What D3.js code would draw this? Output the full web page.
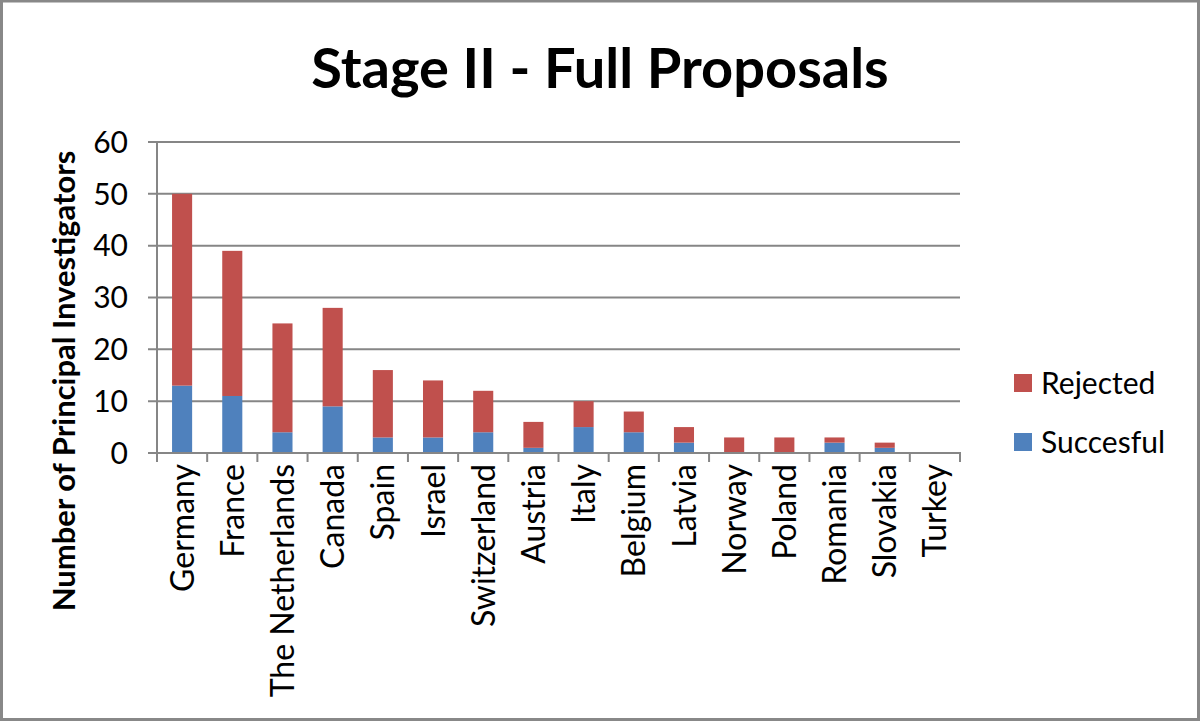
<!DOCTYPE html>
<html><head><meta charset="utf-8">
<script src="https://cdn.jsdelivr.net/npm/d3@7"></script>
<style>body{margin:0;background:#fff;} svg{display:block;}</style>
</head><body>
<svg id="c" width="1200" height="721"></svg>
<script>
const categories = ["Germany","France","The Netherlands","Canada","Spain","Israel","Switzerland","Austria","Italy","Belgium","Latvia","Norway","Poland","Romania","Slovakia","Turkey"];
const successful = [13,11,4,9,3,3,4,1,5,4,2,0,0,2,1,0];
const rejected   = [37,28,21,19,13,11,8,5,5,4,3,3,3,1,1,0];
const yTicks = [0,10,20,30,40,50,60];
const seriesNames = ["Succesful","Rejected"];
const colors = {"Succesful":"#4F81BD","Rejected":"#C0504D"};

(function(){
const svg = d3.select("#c");
const font = "Lato, 'Open Sans', sans-serif";
const W=1200,H=721;
svg.append("rect").attr("x",1.5).attr("y",1).attr("width",W-3).attr("height",H-2.5)
  .attr("fill","#fff").attr("stroke","#888").attr("stroke-width",3);

const pL=157,pR=960,pT=142,pB=453;
const x = d3.scaleBand().domain(categories).range([pL,pR]).paddingInner(0.6).paddingOuter(0.3);
const y = d3.scaleLinear().domain([0,60]).range([pB,pT]);
const axisColor="#868686";

svg.append("g").selectAll("line").data(yTicks).join("line")
  .attr("x1",pL-9).attr("x2",pR).attr("y1",d=>y(d)).attr("y2",d=>y(d))
  .attr("stroke",axisColor).attr("stroke-width",2);

const table = categories.map((c,i)=>({cat:c,"Succesful":successful[i],"Rejected":rejected[i]}));
const stack = d3.stack().keys(seriesNames)(table);
svg.append("g").selectAll("g").data(stack).join("g").attr("fill",d=>colors[d.key])
  .selectAll("rect").data(d=>d).join("rect")
  .attr("x",d=>x(d.data.cat)).attr("width",x.bandwidth())
  .attr("y",d=>y(d[1])).attr("height",d=>y(d[0])-y(d[1]));

svg.append("line").attr("x1",pL).attr("x2",pL).attr("y1",pT).attr("y2",pB)
  .attr("stroke",axisColor).attr("stroke-width",2);
svg.append("line").attr("x1",pL-9).attr("x2",pR+1).attr("y1",pB).attr("y2",pB)
  .attr("stroke",axisColor).attr("stroke-width",2);
const bounds = d3.range(categories.length+1).map(i=>pL+i*(pR-pL)/categories.length);
svg.append("g").selectAll("line").data(bounds).join("line")
  .attr("x1",d=>d).attr("x2",d=>d).attr("y1",pB).attr("y2",pB+9)
  .attr("stroke",axisColor).attr("stroke-width",2);

svg.append("g").selectAll("text").data(yTicks).join("text")
  .attr("x",128).attr("y",d=>y(d)).attr("dy","0.36em").attr("text-anchor","end")
  .attr("font-family",font).attr("font-size",30).attr("fill","#000").text(d=>d);

svg.append("g").selectAll("text").data(categories).join("text")
  .attr("transform",d=>`translate(${x(d)+x.bandwidth()/2},464) rotate(-90)`)
  .attr("dy","0.36em").attr("text-anchor","end")
  .attr("font-family",font).attr("font-size",32).attr("fill","#000").text(d=>d);

svg.append("text").attr("transform","translate(64,381) rotate(-90)")
  .attr("dy","0.36em").attr("text-anchor","middle")
  .attr("font-family",font).attr("font-weight","bold").attr("font-size",31).attr("fill","#000")
  .text("Number of Principal Investigators");

svg.append("text").attr("x",600).attr("y",88).attr("text-anchor","middle")
  .attr("font-family",font).attr("font-weight","bold").attr("font-size",56).attr("fill","#000")
  .text("Stage II - Full Proposals");

const legendItems = ["Rejected","Succesful"];
const lg = svg.append("g").selectAll("g").data(legendItems).join("g")
  .attr("transform",(d,i)=>`translate(1014,${374+i*59})`);
lg.append("rect").attr("width",18).attr("height",18).attr("fill",d=>colors[d]);
lg.append("text").attr("x",27).attr("y",9).attr("dy","0.36em")
  .attr("font-family",font).attr("font-size",30).attr("fill","#000").text(d=>d);
})();
</script>
</body></html>
